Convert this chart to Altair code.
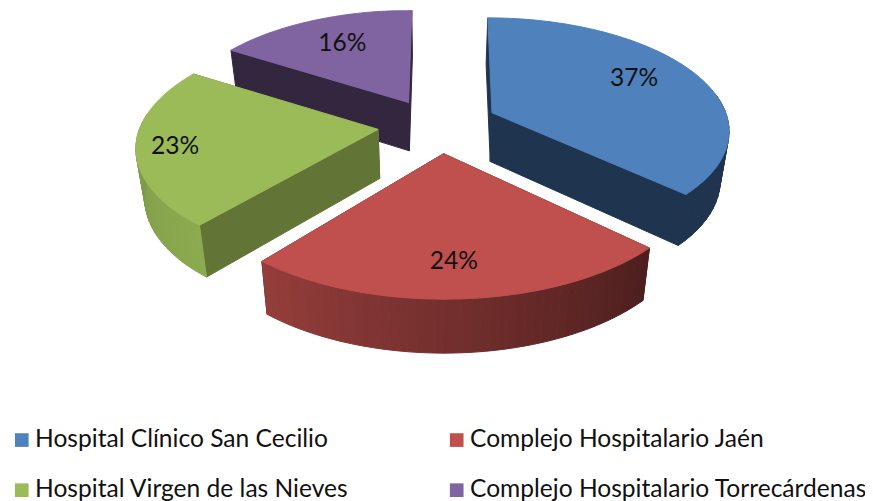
import math
import altair as alt
import pandas as pd

names = ["Hospital Clínico San Cecilio", "Complejo Hospitalario Jaén",
         "Hospital Virgen de las Nieves", "Complejo Hospitalario Torrecárdenas"]
shares = [37, 24, 23, 16]
labels = ["37%", "24%", "23%", "16%"]
top_colors = ["#4f81bd", "#c0504d", "#9bbb59", "#8064a2"]
wall_colors = ["#1f344e", "#4c1f1e", "#627537", "#33273f"]
rim_light = ["#1f344e", "#953e3b", "#8cab50", "#33273f"]
rim_dark = ["#1f344e", "#4c1f1e", "#7a9546", "#33273f"]
draw_order = [3, 2, 0, 1]
legend_order = [0, 2, 1, 3]
slice_dx = [10, 7, -4, 2]
slice_dy = [-5, -2, -3, -3]
slice_r = [1.0, 1.04, 0.99, 1.0]
apex_dx = [-2, 0, 5, 0]

CX, CY, RX, RY, K, EXPL, H = 437.0, 127.0, 237.0, 112.0, 0.14, 0.24, 48.0
OFF = 8  # page margin


def project(X, Y):
    s = 1 / (1 + K * Y)
    return CX + RX * X * s, CY - RY * Y * s, s


def top(i, r, t):
    start = sum(shares[:i]) * 3.6
    mid = start + shares[i] * 1.8
    mx, my = math.sin(math.radians(mid)) * EXPL, math.cos(math.radians(mid)) * EXPL
    a = math.radians(t)
    x, y, s = project(mx + r * math.sin(a), my + r * math.cos(a))
    return x + slice_dx[i], y + slice_dy[i], s


def down(p):
    x, y, s = p
    return x + (CX - x) * 0.03, y + H * (0.55 + 0.48 * s)


def pt(p):
    return [p[0] - OFF, p[1] - OFF]


def dn(p):
    q = down(p)
    return [q[0] - OFF, q[1] - OFF]


def poly(coords, color, order):
    coords = coords + [coords[0]]
    return {"type": "Feature", "geometry": {"type": "Polygon", "coordinates": [coords]},
            "properties": {"c": color, "o": order}}


def mix(a, b, f):
    ca = [int(a[j:j + 2], 16) for j in (1, 3, 5)]
    cb = [int(b[j:j + 2], 16) for j in (1, 3, 5)]
    return "#" + "".join(f"{round(x + (y - x) * f):02x}" for x, y in zip(ca, cb))


features = []
n = 0
for i in draw_order:
    a0 = sum(shares[:i]) * 3.6
    a1 = a0 + shares[i] * 3.6
    rr = slice_r[i]
    ax, ay, az = top(i, 0, a0)
    apex = (ax + apex_dx[i], ay, az)
    for edge in (a0, a1):
        e = top(i, rr, edge)
        features.append(poly([pt(apex), pt(e), dn(e), dn(apex)], wall_colors[i], n))
        n += 1
    steps = 48
    for k in range(steps):
        t0 = a0 + (a1 - a0) * k / steps
        t1 = a0 + (a1 - a0) * (k + 1) / steps
        tm = (t0 + t1) / 2
        if math.cos(math.radians(tm)) > 0.15:
            continue
        p0, p1 = top(i, rr, t0), top(i, rr, t1)
        if i == 2:
            f = (tm - 220) / 60
            col = mix(rim_light[i], rim_dark[i], max(0, min(1, f)))
        else:
            f = (a1 - tm) / (a1 - a0)
            col = mix(rim_dark[i], rim_light[i], max(0, min(1, 1 - f)))
        features.append(poly([pt(p0), pt(p1), dn(p1), dn(p0)], col, n))
        n += 1
    arc = [pt(top(i, rr, a0 + (a1 - a0) * k / 80)) for k in range(81)]
    features.append(poly([pt(apex)] + arc, top_colors[i], n))
    n += 1

proj = alt.Projection(type="identity", scale=1, translate=[0, 0]).to_dict()
W, H_CH = 865, 493

pie = alt.Chart(alt.Data(values=features)).mark_geoshape(strokeWidth=1).encode(
    color=alt.Color("properties.c:N", scale=None, legend=None),
    stroke=alt.Color("properties.c:N", scale=None, legend=None),
    order=alt.Order("properties.o:Q"),
).project(**proj)

legend_features = [
    {"type": "Feature", "geometry": {"type": "Point", "coordinates": [-50, -50]},
     "properties": {"name": nm}} for nm in names
]
legend_layer = alt.Chart(alt.Data(values=legend_features)).mark_geoshape().encode(
    fill=alt.Fill(
        "properties.name:N",
        scale=alt.Scale(domain=[names[j] for j in legend_order],
                        range=[top_colors[j] for j in legend_order]),
        sort=None,
        legend=alt.Legend(
            title=None, orient="none", legendX=1.5, legendY=421, columns=2,
            symbolType="square", symbolSize=190, symbolStrokeWidth=0,
            labelFont="Lato", labelFontSize=24.8, labelColor="#111111", labelLimit=600,
            columnPadding=96, rowPadding=25, labelOffset=1, symbolOffset=0,
        ),
    ),
).project(**proj)

label_r = [0.72, 0.805, 0.83, 0.69]
label_t = [63, 177.5, 259, 332]
lab_rows = []
for i in range(4):
    x, y, _ = top(i, label_r[i], label_t[i])
    lab_rows.append({"lon": x - OFF, "lat": y - OFF, "t": labels[i]})

text = alt.Chart(pd.DataFrame(lab_rows)).mark_text(
    font="Lato", fontSize=24.8, color="#111111"
).encode(longitude="lon:Q", latitude="lat:Q", text="t:N").project(**proj)

chart = alt.layer(legend_layer, pie, text).resolve_scale(color="independent", fill="independent").properties(
    width=W, height=H_CH, padding=0, autosize=alt.AutoSizeParams(type="none")
).configure_view(stroke=None)

chart.save("out.html", embed_options={"renderer": "svg", "actions": False})
